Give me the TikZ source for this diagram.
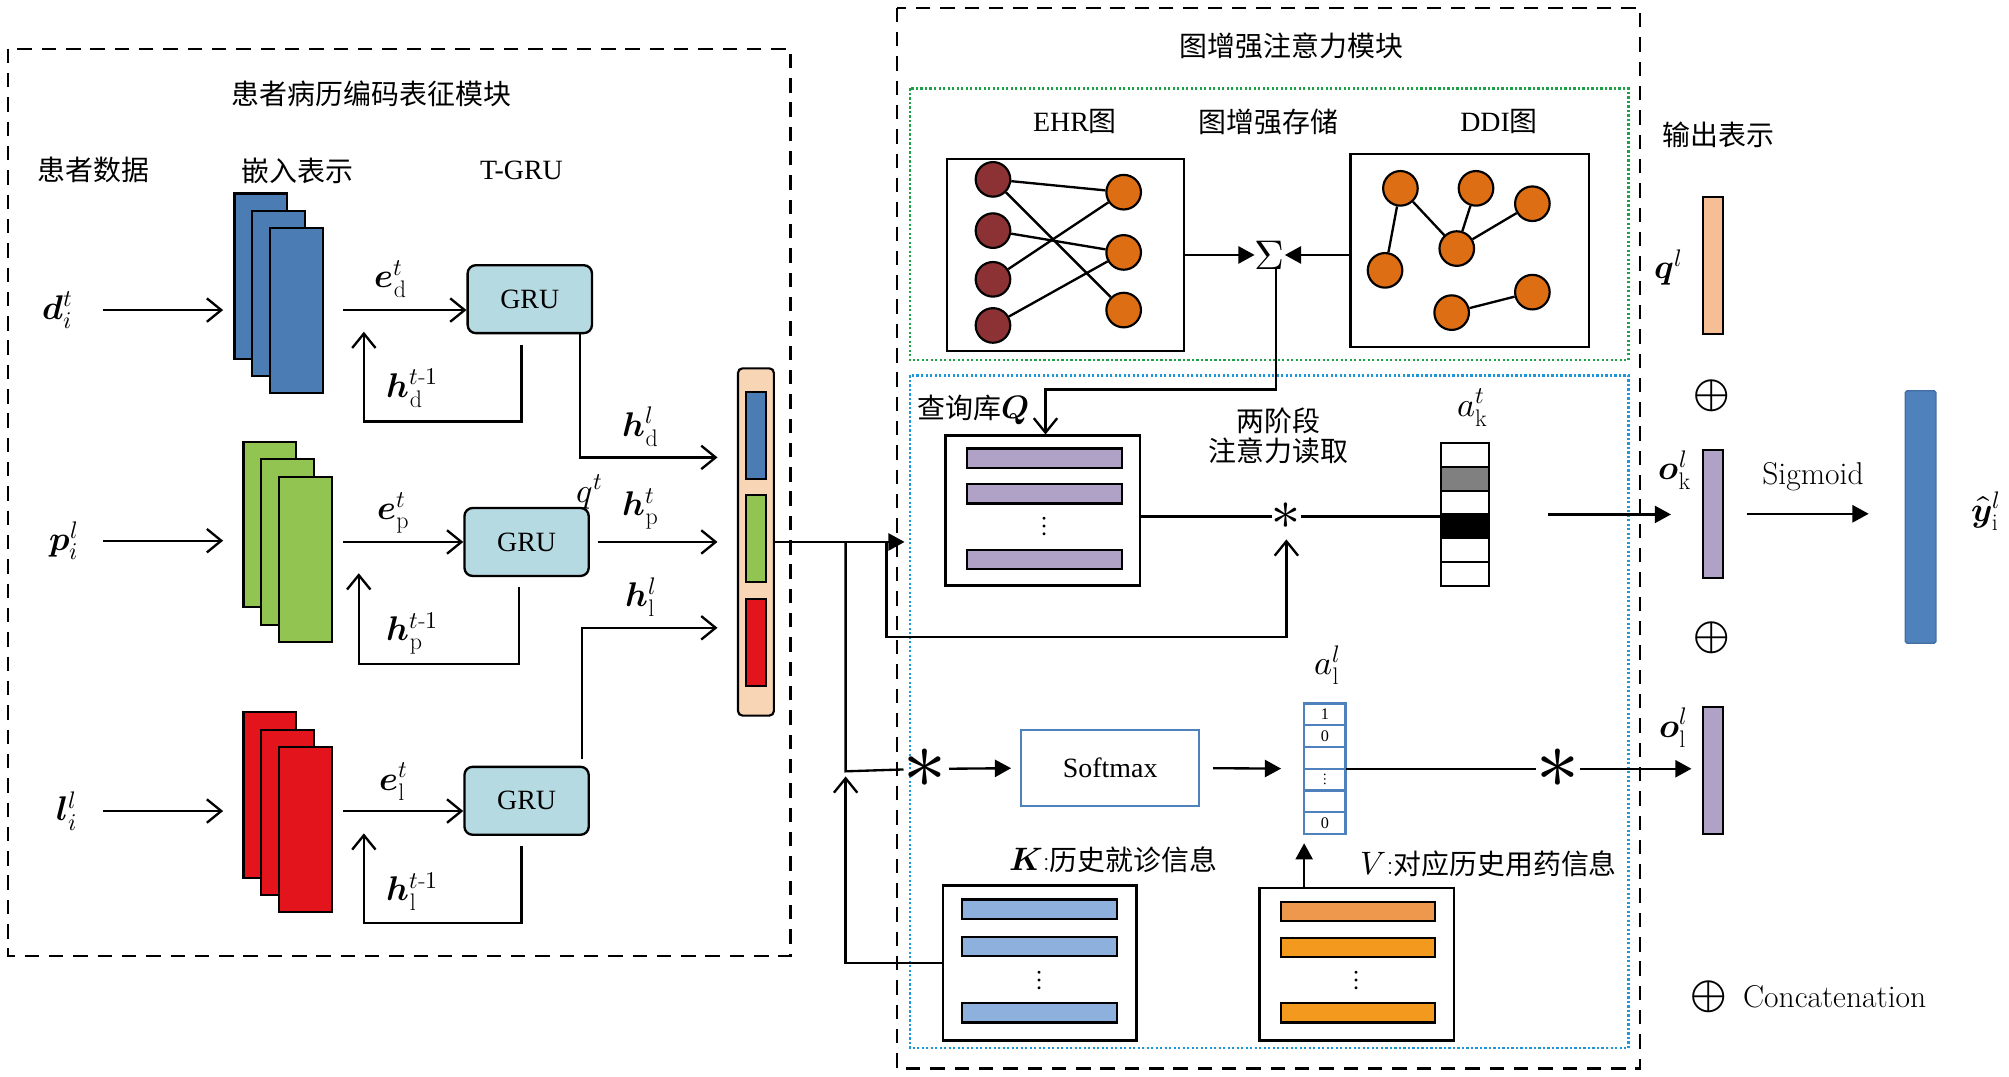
\documentclass[tikz,border=0pt]{standalone}
\usepackage{fontspec}
\usepackage{amsmath}
\usepackage{unicode-math}
\setmathfont{Latin Modern Math}
\usetikzlibrary{arrows.meta,positioning}
\newfontfamily\cjk{Noto Sans CJK SC}
\newfontfamily\tms{Liberation Serif}
\newcommand{\fsz}{\fontsize{31}{37}\selectfont}
\newcommand{\bv}[1]{\symbfit{#1}}
\definecolor{embblue}{RGB}{76,124,180}
\definecolor{embgreen}{RGB}{146,196,82}
\definecolor{embred}{RGB}{228,20,28}
\definecolor{grufill}{RGB}{182,218,226}
\definecolor{peach}{RGB}{248,213,181}
\definecolor{qpurple}{RGB}{176,162,199}
\definecolor{kblue}{RGB}{141,176,220}
\definecolor{vorangea}{RGB}{238,152,77}
\definecolor{vorangeb}{RGB}{243,154,30}
\definecolor{ehrred}{RGB}{140,50,52}
\definecolor{nodeorange}{RGB}{222,110,20}
\definecolor{qlpeach}{RGB}{245,190,148}
\definecolor{outblue}{RGB}{79,129,189}
\definecolor{dotgreen}{RGB}{30,160,70}
\definecolor{dotblue}{RGB}{30,150,215}
\definecolor{cellgray}{RGB}{128,128,128}

\begin{document}
\begin{tikzpicture}[x=0.5mm,y=-0.5mm,
  every node/.style={inner sep=0pt},
  txt/.style={font=\fsz},
  mth/.style={font=\fontsize{38}{44}\selectfont},
  zh/.style={font=\fsz\cjk},
  ln/.style={line width=2.6pt},
  oarr/.style={line width=2.6pt,-{Straight Barb[length=16pt,width=26pt]}},
  farr/.style={line width=2.6pt,-{Triangle[length=18pt,width=19pt]}},
  frame/.style={line width=2.6pt,dash pattern=on 16pt off 11pt},
  dotframe/.style={line width=2.6pt,dash pattern=on 2.4pt off 2.6pt},
  emb/.style={draw,line width=2.4pt,minimum width=20.5mm,minimum height=64.5mm},
  gru/.style={draw,rounded corners=9pt,fill=grufill,line width=2.6pt,
              minimum width=48.5mm,minimum height=26.5mm,font=\fsz\tms},
  seg/.style={draw,line width=2.2pt,minimum width=8mm,minimum height=34mm},
  bar/.style={draw,line width=2.4pt,minimum width=60.5mm,minimum height=7.5mm},
  store/.style={draw,line width=2.6pt,fill=white},
  gnode/.style={circle,draw,line width=2.4pt,minimum size=13.5mm},
  akcell/.style={draw,line width=2.2pt,minimum width=18.5mm,minimum height=9.25mm},
  alcell/.style={draw=outblue,line width=2.6pt,fill=white,minimum width=16mm,
                 minimum height=8.5mm,font=\fontsize{18}{20}\selectfont\tms},
  rbar/.style={draw,line width=2.4pt,minimum width=8mm},
  bigstar/.style={font=\fontsize{95}{95}\selectfont},
  plus/.style={font=\fontsize{52}{52}\selectfont}]
\path[use as bounding box,fill=white] (0,0) rectangle (1568,840);

% module frames
\draw[frame] (6,38) rectangle (617,746);
\draw[frame] (700,6) rectangle (1280,834);
\draw[dotframe,draw=dotgreen] (710,69) rectangle (1271,281);
\draw[dotframe,draw=dotblue] (710,293) rectangle (1271,818);

% headings
\node[zh] (t1) at (290,73) {患者病历编码表征模块};
\node[zh] (hpat) at (73,133) {患者数据};
\node[zh] (hemb) at (232,133) {嵌入表示};
\node[txt,font=\fsz\tms] (hgru) at (407,133) {T-GRU};
\node[zh] (t2) at (1008,36) {图增强注意力模块};
\node[txt,font=\fsz\tms] (hehr) at (839,95) {EHR{\cjk 图}};
\node[zh] (hmem) at (990,95) {图增强存储};
\node[txt,font=\fsz\tms] (hddi) at (1170,95) {DDI{\cjk 图}};
\node[zh] (hout) at (1341,105) {输出表示};

% embedding stacks
\foreach \k in {0,1,2}{
  \node[emb,fill=embblue]  (sd\k) at (203.5+14*\k,215.5+13.5*\k) {};
  \node[emb,fill=embgreen] (sp\k) at (210.5+14*\k,409.5+13.5*\k) {};
  \node[emb,fill=embred]   (sl\k) at (210.5+14*\k,620.5+13.5*\k) {};
}

% inputs
\node[mth] (xd) at (45,242) {$\bv{d}^{t}_{i}$};
\node[mth] (xp) at (50,422) {$\bv{p}^{l}_{i}$};
\node[mth] (xl) at (52,633) {$\bv{l}^{l}_{i}$};
\coordinate (ind) at (80,242);
\coordinate (inp) at (80,422);
\coordinate (inl) at (80,633);
\draw[oarr,shorten >=4mm] (ind) -- (ind -| sd0.west);
\draw[oarr,shorten >=7.5mm] (inp) -- (inp -| sp0.west);
\draw[oarr,shorten >=7.5mm] (inl) -- (inl -| sl0.west);

% T-GRU
\node[gru] (gd) at (413.5,233.5) {GRU};
\node[gru] (gp) at (411,423) {GRU};
\node[gru] (gl) at (411,625) {GRU};
\coordinate (ed) at (268,242);
\coordinate (ep) at (268,423);
\coordinate (el) at (268,633);
\draw[oarr] (ed) -- (ed -| gd.west);
\draw[oarr] (ep) -- (ep -| gp.west);
\draw[oarr] (el) -- (el -| gl.west);
\node[mth] (led) at (305,218) {$\bv{e}^{t}_{\mathrm{d}}$};
\node[mth] (lep) at (307,400) {$\bv{e}^{t}_{\mathrm{p}}$};
\node[mth] (lel) at (307,610) {$\bv{e}^{t}_{\mathrm{l}}$};

% recurrent feedback
\draw[oarr] ([xshift=-3.25mm,yshift=-4mm]gd.south) |- ++(-123,60) -- ++(0,-70);
\draw[oarr] ([xshift=-3mm,yshift=-4mm]gp.south) |- ++(-125,60) -- ++(0,-71);
\draw[oarr] ([xshift=-2mm,yshift=-4mm]gl.south) |- ++(-123,60) -- ++(0,-70);
\node[mth] (lhd) at (322,303) {$\bv{h}^{t\text{-}1}_{\mathrm{d}}$};
\node[mth] (lhp) at (322,494) {$\bv{h}^{t\text{-}1}_{\mathrm{p}}$};
\node[mth] (lhl) at (322,696) {$\bv{h}^{t\text{-}1}_{\mathrm{l}}$};

% concatenated query
\node[draw,line width=2.4pt,rounded corners=5pt,fill=peach,
      minimum width=14mm,minimum height=135.5mm] (cb) at (590,423) {};
\node[seg,fill=embblue]  (cb1) at (590,340) {};
\node[seg,fill=embgreen] (cb2) at (590,420.5) {};
\node[seg,fill=embred]   (cb3) at (590,501.5) {};
\coordinate (cd) at (560,357);
\coordinate (cp) at (560,423);
\coordinate (cl) at (560,490);
\draw[oarr] ([xshift=-5mm]gd.south east) |- (cd);
\draw[oarr] ([xshift=3mm]gp.east) -- (cp);
\draw[oarr] ([xshift=-3mm,yshift=2.5mm]gl.north east) |- (cl);
\node[mth] (lod) at (500,333) {$\bv{h}^{l}_{\mathrm{d}}$};
\node[mth] (lop) at (500,397) {$\bv{h}^{t}_{\mathrm{p}}$};
\node[mth] (lol) at (500,466) {$\bv{h}^{l}_{\mathrm{l}}$};
\node[mth] (lq) at (460,384) {$q^{t}$};

% graph memory
\node[store,minimum width=92.5mm,minimum height=75mm] (ehr) at (831.5,199) {};
\node[store,minimum width=93mm,minimum height=75.5mm] (ddi) at (1147,195.5) {};
\foreach \y [count=\i] in {140,180,218,254}
  \node[gnode,fill=ehrred] (el\i) at (775,\y) {};
\foreach \y [count=\i] in {150,197,242}
  \node[gnode,fill=nodeorange] (er\i) at (877,\y) {};
\draw[ln] (el1) -- (er1);
\draw[ln] (el1) -- (er3);
\draw[ln] (el2) -- (er2);
\draw[ln] (el3) -- (er1);
\draw[ln] (el4) -- (er2);
\node[gnode,fill=nodeorange] (da) at (1093,147) {};
\node[gnode,fill=nodeorange] (db) at (1152,147) {};
\node[gnode,fill=nodeorange] (dc) at (1196,159) {};
\node[gnode,fill=nodeorange] (dd) at (1137,194) {};
\node[gnode,fill=nodeorange] (de) at (1081,211) {};
\node[gnode,fill=nodeorange] (df) at (1196,228) {};
\node[gnode,fill=nodeorange] (dg) at (1133,244) {};
\draw[ln] (da) -- (de);
\draw[ln] (da) -- (dd);
\draw[ln] (db) -- (dd);
\draw[ln] (dd) -- (dc);
\draw[ln] (dg) -- (df);
\node[font=\fontsize{46}{46}\selectfont] (sig) at (991,199) {$\Sigma$};
\draw[farr] (ehr.east |- sig.west) -- (sig.west);
\draw[farr] (ddi.west |- sig.east) -- (sig.east);

% query bank and two-stage read
\node[store,minimum width=76mm,minimum height=58.5mm] (qbox) at (814,398.5) {};
\foreach \y [count=\i] in {357.5,385.5,436.5}
  \node[bar,fill=qpurple] (qbar\i) at (815.5,\y) {};
\node[txt] (qdots) at (815,411) {$\vdots$};
\node[txt,anchor=west] (lqb) at (716,320) {{\cjk 查询库}{\fontsize{36}{40}\selectfont$\bv{Q}$}};
\coordinate (qtop) at (816,304);
\draw[oarr] ([xshift=2.5mm]sig.south) |- (qtop) -- (qtop |- qbox.north);
\node[zh,align=center] (ltwo) at (998,340) {两阶段\\[-4pt]注意力读取};
\node[font=\fontsize{64}{64}\selectfont] (stq) at (1004,403) {$\ast$};
\node[minimum width=18.5mm,minimum height=55.5mm] (ak) at (1143.5,401.5) {};
\foreach \c [count=\i] in {white,cellgray,white,black,white,white}
  \node[akcell,fill=\c] (ak\i) at (1143.5,355.25+18.5*\i-18.5) {};
\node[mth] (lak) at (1149,318) {$a^{t}_{\mathrm{k}}$};
\draw[ln] (qbox.east |- stq.west) -- (stq.west);
\draw[ln] (stq.east) -- (stq.east -| ak.west);

% query paths
\coordinate (qin) at (706,423);
\coordinate (jq) at (660,423);
\coordinate (jq2) at (692,423);
\coordinate (jk) at (660,602);
\coordinate (jk2) at (660,606);
\draw[farr] (cb.east) -- (qin);
\node[bigstar] (stl) at (722,600) {$\ast$};
\draw[ln] (jq) -- (jk) -- (stl);
\draw[oarr] (jq2) -- ++(0,74) -| ([yshift=-9mm]stq.center);

% key / value memory
\node[store,minimum width=75.5mm,minimum height=60.5mm] (kbox) at (811.5,751.5) {};
\foreach \y [count=\i] in {709.5,738.5,790.5}
  \node[bar,fill=kblue] (kbar\i) at (811.5,\y) {};
\node[txt] (kdots) at (811,765) {$\vdots$};
\node[store,minimum width=76mm,minimum height=59.5mm] (vbox) at (1059,752.5) {};
\node[bar,fill=vorangea,minimum width=60mm] (vbar1) at (1060,711.5) {};
\node[bar,fill=vorangeb,minimum width=60mm] (vbar2) at (1060,739.5) {};
\node[bar,fill=vorangeb,minimum width=60mm] (vbar3) at (1060,790.5) {};
\node[txt] (vdots) at (1059,765) {$\vdots$};
\node[txt] (lk) at (869,671) {{\fontsize{36}{40}\selectfont$\bv{K}$}{:}{\cjk 历史就诊信息}};
\node[txt] (lv) at (1162,674) {{\fontsize{36}{40}\selectfont$V$}{:}{\cjk 对应历史用药信息}};
\draw[oarr] (kbox.west) -| (jk2);

% softmax read
\node[draw=outblue,line width=2.4pt,fill=white,minimum width=69.5mm,
      minimum height=29.5mm,font=\fsz\tms] (sm) at (866.5,599.5) {Softmax};
\node[minimum width=16mm,minimum height=51mm] (al) at (1034,600) {};
\foreach \t [count=\i] in {1,0,{},{$\vdots$},{},0}
  \node[alcell] (al\i) at (1034,557.5+17*\i-17) {\t};
\node[mth] (lal) at (1036,519) {$a^{l}_{\mathrm{l}}$};
\node[bigstar] (str) at (1216,600) {$\ast$};
\draw[farr,shorten <=1mm,shorten >=3.5mm] (stl.east) -- (sm.west);
\draw[farr,shorten <=5mm,shorten >=9mm] (sm.east) -- (al.west);
\draw[ln] (al.east) -- (str.west);
\draw[farr,shorten >=3.5mm] (vbox.north -| al.west) -- (al.south west);

% output representation
\node[rbar,fill=qlpeach,minimum height=53.5mm] (ql) at (1337,207.5) {};
\node[rbar,fill=qpurple,minimum height=50mm] (ok) at (1337,401) {};
\node[rbar,fill=qpurple,minimum height=49.5mm] (ol) at (1337,601.5) {};
\node[plus] (pl1) at (1336,309) {$\oplus$};
\node[plus] (pl2) at (1336,498) {$\oplus$};
\node[mth] (lql) at (1302,209) {$\bv{q}^{l}$};
\node[mth] (lok) at (1307,367) {$\bv{o}^{l}_{\mathrm{k}}$};
\node[mth] (lol2) at (1306,568) {$\bv{o}^{l}_{\mathrm{l}}$};
\draw[farr,shorten <=23mm,shorten >=12mm] (ak.east) -- (ak.east -| ok.west);
\draw[farr,shorten >=4mm] (str.east) -- (str.east -| ol.west);
\node[draw=outblue!85!black,line width=1.5pt,fill=outblue,rounded corners=2pt,
      minimum width=12mm,minimum height=98.5mm] (yb) at (1499,403.5) {};
\draw[farr,shorten <=9mm,shorten >=14mm] (ok.east) -- (ok.east -| yb.west);
\node[font=\fontsize{35}{40}\selectfont] (lsig) at (1415,372) {Sigmoid};
\node[mth] (ly) at (1550,399) {$\hat{\bv{y}}^{l}_{\mathrm{i}}$};

% legend
\node[plus] (pl3) at (1334,778) {$\oplus$};
\node[font=\fontsize{35}{40}\selectfont,right=6mm of pl3] (lcat) {Concatenation};
\end{tikzpicture}
\end{document}
